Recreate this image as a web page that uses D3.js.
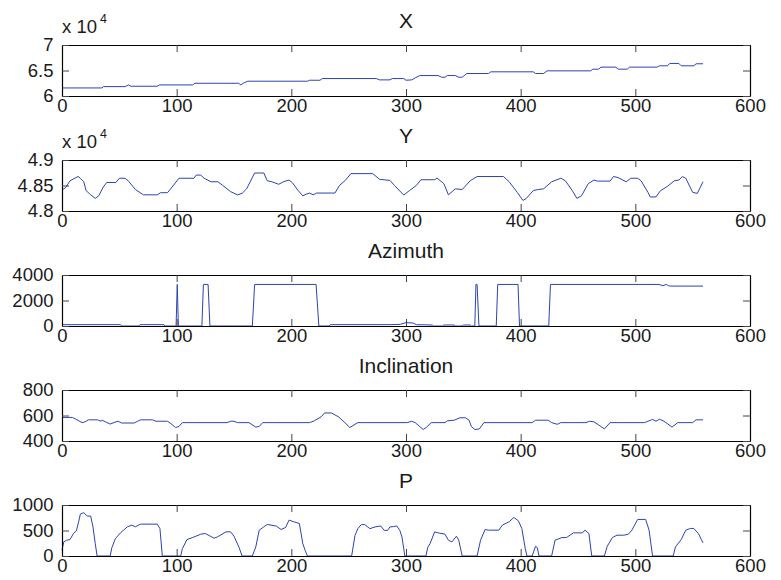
<!DOCTYPE html>
<html>
<head>
<meta charset="utf-8">
<script src="https://cdn.jsdelivr.net/npm/d3@7"></script>
<style>
body { margin: 0; background: #fff; }
svg text { font-family: "Liberation Sans", Arial, Helvetica, sans-serif; fill: #1a1a1a; }
</style>
</head>
<body>
<script>
// shared x ticks
const xTicks = [0, 100, 200, 300, 400, 500, 600];

// per-panel settings
const titles = ['X', 'Y', 'Azimuth', 'Inclination', 'P'];
const yDomains = [[60000, 70000], [48000, 49000], [0, 4000], [400, 800], [0, 1000]];
const yTicks = [[60000, 65000, 70000], [48000, 48500, 49000], [0, 2000, 4000], [400, 600, 800], [0, 500, 1000]];
const yTickLabels = [['6', '6.5', '7'], ['4.8', '4.85', '4.9'], ['0', '2000', '4000'], ['400', '600', '800'], ['0', '500', '1000']];
const exponents = [4, 4, null, null, null];

// series: [sample, value]
const xData = [[0,61580],[35,61580],[36,61840],[55,61840],[58,62170],[60,61910],[83,61910],[85,62170],[114,62170],[116,62500],[154,62500],[156,62170],[158,62500],[162,62900],[214,62900],[216,63090],[225,63090],[227,63420],[274,63420],[277,63160],[286,63160],[288,63420],[298,63420],[300,63090],[305,63160],[308,63550],[312,64010],[328,64010],[331,63680],[334,63680],[336,64010],[343,64010],[346,63680],[349,63680],[353,64410],[372,64410],[374,64740],[411,64740],[413,64410],[420,64410],[423,64930],[461,64930],[463,65260],[468,65260],[470,65660],[483,65660],[485,65260],[493,65260],[495,65660],[519,65660],[521,65920],[528,65920],[530,66380],[538,66380],[540,65920],[551,65920],[553,66320],[559,66320]];

const yData = [[0,48414],[3,48455],[7,48593],[14,48676],[16,48642],[19,48573],[21,48400],[25,48317],[29,48248],[32,48297],[36,48469],[39,48559],[47,48559],[50,48642],[55,48642],[58,48586],[64,48421],[71,48317],[83,48317],[86,48359],[92,48359],[96,48469],[102,48642],[115,48642],[117,48704],[121,48704],[124,48642],[130,48573],[136,48573],[140,48504],[147,48380],[153,48317],[157,48345],[161,48435],[168,48745],[176,48745],[179,48593],[183,48573],[189,48524],[193,48573],[198,48607],[201,48552],[206,48400],[210,48297],[213,48331],[216,48352],[219,48317],[222,48352],[238,48352],[242,48500],[247,48600],[252,48733],[271,48733],[277,48620],[286,48600],[290,48500],[298,48313],[303,48400],[309,48500],[313,48613],[325,48613],[327,48645],[333,48538],[337,48317],[343,48435],[349,48421],[356,48593],[362,48676],[385,48676],[390,48573],[397,48366],[402,48207],[405,48248],[411,48400],[415,48421],[420,48435],[427,48573],[435,48642],[439,48593],[445,48400],[449,48248],[453,48297],[459,48538],[464,48607],[467,48586],[478,48586],[481,48676],[485,48655],[492,48573],[496,48642],[502,48642],[505,48593],[511,48366],[513,48276],[518,48276],[522,48400],[528,48483],[534,48593],[538,48607],[541,48676],[544,48642],[550,48366],[554,48345],[556,48435],[559,48573]];

const azimuthData = [[0,105],[51,105],[52,0],[67,0],[68,105],[89,105],[89.5,0],[99.5,0],[100.5,3261],[101.5,0],[122,0],[123.3,3261],[127.4,3261],[129,0],[166,0],[168,3261],[221.6,3261],[224,0],[233,0],[234,105],[286,105],[295,132],[300,263],[306,237],[309,105],[323,79],[324,0],[332,0],[333,79],[342,79],[343,0],[349,0],[350,79],[356,79],[357,0],[360,0],[361,3261],[362,3261],[363.6,0],[378.7,0],[380,3261],[397.7,3261],[399,0],[424.5,0],[426,3261],[520.7,3261],[524,3156],[527,3261],[529,3156],[531,3130],[559,3130]];

const inclinationData = [[0,585],[9,585],[12,571],[17.5,544],[20,550],[23,566],[31,566],[34,555],[35,563],[38,550],[42,533],[47,550],[49,555],[52,541],[63,541],[66,555],[68.5,566],[79,566],[82,555],[92,555],[95,536],[99,506],[102,514],[105,544],[144,544],[147,555],[150,555],[153,544],[163,544],[169,509],[172,514],[175,544],[216,544],[220,558],[226,590],[229,620],[235,620],[241,590],[246,550],[251,506],[258,544],[301,544],[305,555],[308,544],[315,490],[318,509],[322,544],[334,544],[336,558],[342,563],[347,582],[352,582],[355,563],[357,514],[360,490],[364,495],[368,544],[410,544],[413,563],[424,563],[427,544],[432,531],[435,544],[457,544],[460,555],[464,550],[473,495],[478,544],[508,544],[511,555],[515,569],[518,555],[521,571],[525,555],[532,509],[537,544],[550,544],[553,566],[559,566]];

const pData = [[0,112],[1.5,276],[4,309],[7,322],[10,441],[12.5,493],[14.5,671],[16,822],[19,849],[22,783],[25,783],[27,572],[29,243],[30.6,0],[42,0],[43.5,164],[46.6,342],[51,454],[57,572],[61,605],[64,572],[68.5,625],[83,625],[85.4,539],[87.5,0],[103.5,0],[105,145],[109,322],[114,362],[121,428],[125,441],[132.6,349],[135.6,375],[143,474],[147,474],[150,388],[154.5,164],[157,0],[166,0],[169,178],[172,507],[176,572],[179,619],[187,586],[191,520],[195,559],[198,704],[202,671],[207,638],[210,243],[212,112],[214,0],[252.6,0],[255.5,400],[258,536],[261,616],[264,616],[268.5,536],[273,570],[278,589],[281,503],[284,503],[286,570],[289,576],[292,589],[294.6,503],[296.5,371],[299,0],[317.4,0],[319,172],[321,243],[325,474],[328,454],[334,428],[337,309],[340,276],[344,388],[346,309],[349,0],[362,0],[365,309],[369,520],[372,507],[381,507],[384,605],[390,671],[394,757],[398,691],[401,539],[404,145],[405.5,0],[410,0],[413,191],[414.5,165],[416,0],[427,0],[430,309],[436,362],[440,362],[443,408],[446,454],[454,454],[456,507],[459.5,441],[462,0],[473,0],[475.5,191],[480,362],[484,408],[490,408],[494,428],[497,507],[502,717],[509,717],[512,507],[515,0],[533,0],[535,178],[540,322],[544,507],[548,540],[551,540],[555,441],[559,257]];

const allSeries = [xData, yData, azimuthData, inclinationData, pData];

const width = 781, height = 580;
const left = 62, right = 750;
const panelH = 51;
const panelTop = i => 45 + i * 115;

const svg = d3.select('body')
              .append('svg')
              .attr('width', width)
              .attr('height', height);

const x = d3.scaleLinear().domain([0, 600]).range([left, right]);

allSeries.forEach((data, i) => {
  const top = panelTop(i), bottom = top + panelH;
  const y = d3.scaleLinear().domain(yDomains[i]).range([bottom, top]);
  const g = svg.append('g');

  g.append('path')
    .datum(data)
    .attr('fill', 'none')
    .attr('stroke', '#2c44b0')
    .attr('stroke-width', 1)
    .attr('d', d3.line().x(d => x(d[0])).y(d => y(d[1])));

  const bAxis = g.append('g')
    .attr('transform', `translate(0,${bottom})`)
    .call(d3.axisBottom(x).tickValues(xTicks).tickSizeInner(-7).tickSizeOuter(0).tickPadding(3).tickFormat(d3.format('d')));
  const tAxis = g.append('g')
    .attr('transform', `translate(0,${top})`)
    .call(d3.axisTop(x).tickValues(xTicks).tickSizeInner(-7).tickSizeOuter(0).tickFormat(''));
  const lAxis = g.append('g')
    .attr('transform', `translate(${left},0)`)
    .call(d3.axisLeft(y).tickValues(yTicks[i]).tickSizeInner(-7).tickSizeOuter(0).tickPadding(8.5)
      .tickFormat((d, j) => yTickLabels[i][j]));
  const rAxis = g.append('g')
    .attr('transform', `translate(${right},0)`)
    .call(d3.axisRight(y).tickValues(yTicks[i]).tickSizeInner(-7).tickSizeOuter(0).tickFormat(''));

  [bAxis, tAxis, lAxis, rAxis].forEach(ax => {
    ax.attr('font-family', null).attr('font-size', null);
    ax.select('.domain').attr('stroke', '#000').attr('stroke-width', 1.2);
    ax.selectAll('.tick line').attr('stroke', '#444');
    ax.selectAll('.tick text').attr('font-size', '18.5px').attr('fill', '#1a1a1a');
  });

  g.append('text')
    .attr('x', (left + right) / 2)
    .attr('y', top - 17)
    .attr('text-anchor', 'middle')
    .attr('font-size', '21px')
    .text(titles[i]);

  if (exponents[i] !== null) {
    const t = g.append('text')
      .attr('x', left)
      .attr('y', top - 12.5)
      .attr('font-size', '18.5px')
      .text('x 10');
    t.append('tspan')
      .attr('dx', 3)
      .attr('dy', -9.5)
      .attr('font-size', '12.5px')
      .text(exponents[i]);
  }
});
</script>
</body>
</html>
